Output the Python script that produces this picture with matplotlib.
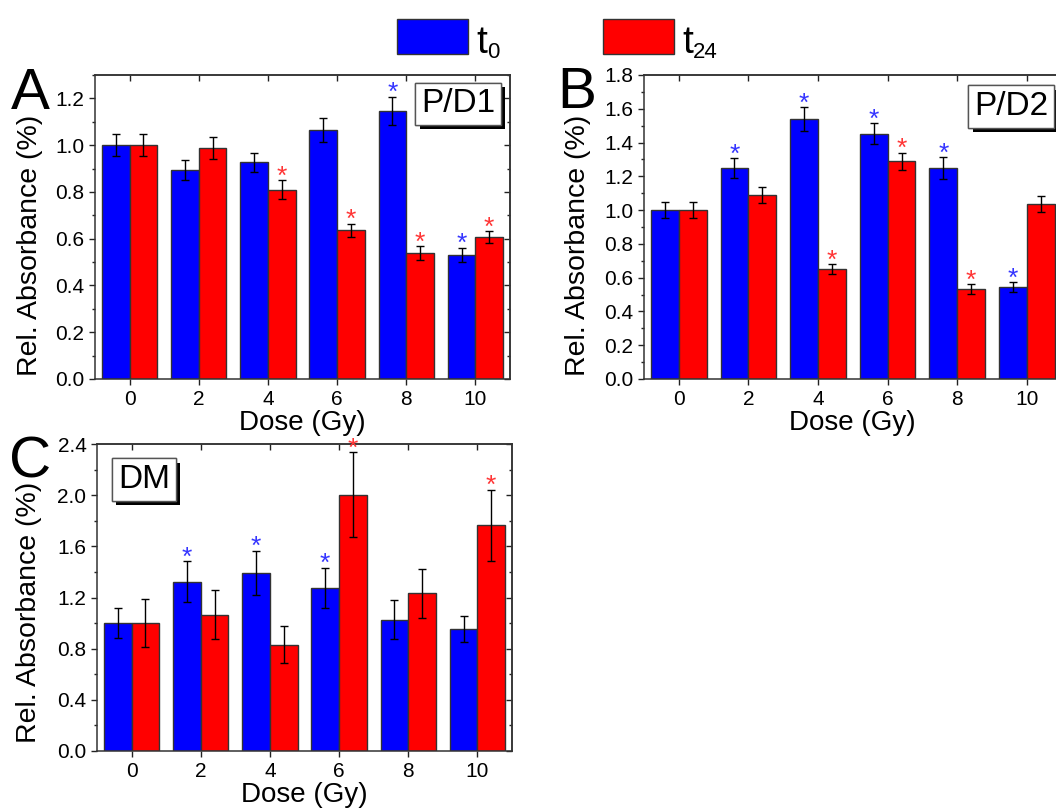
import matplotlib
matplotlib.use("Agg")
import matplotlib.pyplot as plt
import matplotlib.patheffects as pe
from matplotlib.patches import Rectangle
from matplotlib.ticker import MultipleLocator
import numpy as np

plt.rcParams['font.family'] = ['Liberation Sans', 'DejaVu Sans']

W, H = 1056, 808

dose = [0, 2, 4, 6, 8, 10]

# panel A, P/D1
pd1_t0 = [1.00, 0.893, 0.926, 1.065, 1.147, 0.532]
pd1_t0_err = [0.048, 0.044, 0.041, 0.050, 0.060, 0.030]
pd1_t24 = [1.00, 0.987, 0.810, 0.636, 0.539, 0.606]
pd1_t24_err = [0.048, 0.046, 0.041, 0.028, 0.028, 0.025]
pd1_star_t0 = [False, False, False, False, True, True]
pd1_star_t24 = [False, False, True, True, True, True]

# panel B, P/D2
pd2_t0 = [1.00, 1.248, 1.540, 1.453, 1.248, 0.544]
pd2_t0_err = [0.048, 0.060, 0.070, 0.063, 0.065, 0.030]
pd2_t24 = [1.00, 1.088, 0.651, 1.289, 0.532, 1.037]
pd2_t24_err = [0.048, 0.048, 0.030, 0.052, 0.030, 0.047]
pd2_star_t0 = [False, True, True, True, True, True]
pd2_star_t24 = [False, False, True, True, True, False]

# panel C, DM
dm_t0 = [1.00, 1.322, 1.393, 1.277, 1.028, 0.952]
dm_t0_err = [0.12, 0.160, 0.173, 0.157, 0.152, 0.100]
dm_t24 = [1.00, 1.065, 0.831, 2.004, 1.233, 1.763]
dm_t24_err = [0.19, 0.190, 0.145, 0.330, 0.190, 0.280]
dm_star_t0 = [False, True, True, True, False, False]
dm_star_t24 = [False, False, False, True, False, True]

BLUE = '#0000ff'
RED = '#ff0000'
EDGE = '#333333'
STAR_BLUE = '#3535ff'
STAR_RED = '#ff3535'


def draw_panel(ax, t0, t0_err, t24, t24_err, star_t0, star_t24,
               ymax, ymajor, yminor, tag, tag_xy, ylab_x, ylab_y):
    x = np.array(dose, dtype=float)
    ekw = dict(ecolor='k', elinewidth=1, capsize=3, capthick=1)
    ax.bar(x - 0.4, t0, width=0.8, color=BLUE, edgecolor=EDGE, linewidth=1,
           yerr=t0_err, error_kw=ekw, zorder=2)
    ax.bar(x + 0.4, t24, width=0.8, color=RED, edgecolor=EDGE, linewidth=1,
           yerr=t24_err, error_kw=ekw, zorder=2)

    # significance stars above the error bars
    for xi, v, e, s in zip(x, t0, t0_err, star_t0):
        if s:
            ax.annotate('*', (xi - 0.4, v + e), xytext=(0, -2.5),
                        textcoords='offset points', ha='center',
                        va='baseline', color=STAR_BLUE, fontsize=19,
                        zorder=6)
    for xi, v, e, s in zip(x, t24, t24_err, star_t24):
        if s:
            ax.annotate('*', (xi + 0.4, v + e), xytext=(0, -2.5),
                        textcoords='offset points', ha='center',
                        va='baseline', color=STAR_RED, fontsize=19,
                        zorder=6)

    ax.set_xlim(-1, 11)
    ax.set_ylim(0, ymax)
    ax.set_xticks(dose)
    ax.yaxis.set_major_locator(MultipleLocator(ymajor))
    ax.yaxis.set_minor_locator(MultipleLocator(yminor))
    ax.tick_params(axis='both', which='both', direction='out',
                   top=False, right=False, width=1, colors='#222222',
                   labelcolor='black', labelsize=15, pad=3.6)
    ax.tick_params(which='major', length=4)
    ax.tick_params(which='minor', length=2.5)
    ax.yaxis.set_major_formatter(plt.FormatStrFormatter('%.1f'))

    # mirrored ticks pointing in
    sy = ax.secondary_yaxis('right')
    sy.yaxis.set_major_locator(MultipleLocator(ymajor))
    sy.yaxis.set_minor_locator(MultipleLocator(yminor))
    sy.tick_params(which='both', direction='in', labelright=False,
                   width=1, colors='#222222')
    sy.tick_params(which='major', length=4)
    sy.tick_params(which='minor', length=2.5)
    sx = ax.secondary_xaxis('top')
    sx.set_xticks(dose)
    sx.tick_params(direction='in', labeltop=False, length=4, width=1,
                   colors='#222222')
    for sp in list(ax.spines.values()) + list(sy.spines.values()) + list(sx.spines.values()):
        sp.set_color('#333333')
        sp.set_linewidth(1.1)

    ax.set_xlabel('Dose (Gy)', fontsize=20, labelpad=1)
    ax.set_ylabel('Rel. Absorbance (%)', fontsize=20.5)
    ax.yaxis.set_label_coords(ylab_x, ylab_y)

    t = ax.text(tag_xy[0], tag_xy[1], tag, transform=ax.transAxes,
                ha='center', va='center', fontsize=24, zorder=5,
                bbox=dict(boxstyle='square,pad=0.17', facecolor='white',
                          edgecolor='#555555', linewidth=1))
    t.get_bbox_patch().set_path_effects(
        [pe.withSimplePatchShadow(offset=(3, -3), shadow_rgbFace='black',
                                  alpha=1.0), pe.Normal()])


fig = plt.figure(figsize=(W / 100, H / 100), dpi=100)

ax_a = fig.add_axes([95 / W, 1 - 379 / H, 415 / W, 304 / H])
ax_b = fig.add_axes([644 / W, 1 - 379 / H, 417.6 / W, 304 / H])
ax_c = fig.add_axes([97 / W, 1 - 751 / H, 415 / W, 307 / H])

draw_panel(ax_a, pd1_t0, pd1_t0_err, pd1_t24, pd1_t24_err, pd1_star_t0,
           pd1_star_t24, 1.3, 0.2, 0.1, 'P/D1', (0.875, 0.905), -0.125, 0.44)
draw_panel(ax_b, pd2_t0, pd2_t0_err, pd2_t24, pd2_t24_err, pd2_star_t0,
           pd2_star_t24, 1.8, 0.2, 0.1, 'P/D2', (0.879, 0.896), -0.127, 0.44)
draw_panel(ax_c, dm_t0, dm_t0_err, dm_t24, dm_t24_err, dm_star_t0,
           dm_star_t24, 2.4, 0.4, 0.2, 'DM', (0.113, 0.884), -0.1325, 0.453)

# panel letters
fig.text(11 / W, 1 - 109 / H, 'A', fontsize=42, va='baseline', ha='left')
fig.text(557 / W, 1 - 108 / H, 'B', fontsize=42, va='baseline', ha='left')
fig.text(9 / W, 1 - 478 / H, 'C', fontsize=42, va='baseline', ha='left')

# legend
fig.add_artist(Rectangle((397 / W, 1 - 54 / H), 71 / W, 35 / H,
                         transform=fig.transFigure, facecolor=BLUE,
                         edgecolor=EDGE, linewidth=1))
fig.add_artist(Rectangle((603 / W, 1 - 54 / H), 71 / W, 35 / H,
                         transform=fig.transFigure, facecolor=RED,
                         edgecolor=EDGE, linewidth=1))
fig.text(476 / W, 1 - 53 / H, 't', fontsize=28, va='baseline')
fig.text(487 / W, 1 - 58 / H, '0', fontsize=16, va='baseline')
fig.text(682 / W, 1 - 53 / H, 't', fontsize=28, va='baseline')
fig.text(693 / W, 1 - 58 / H, '24', fontsize=16, va='baseline')

fig.savefig('out.png', dpi=100)
